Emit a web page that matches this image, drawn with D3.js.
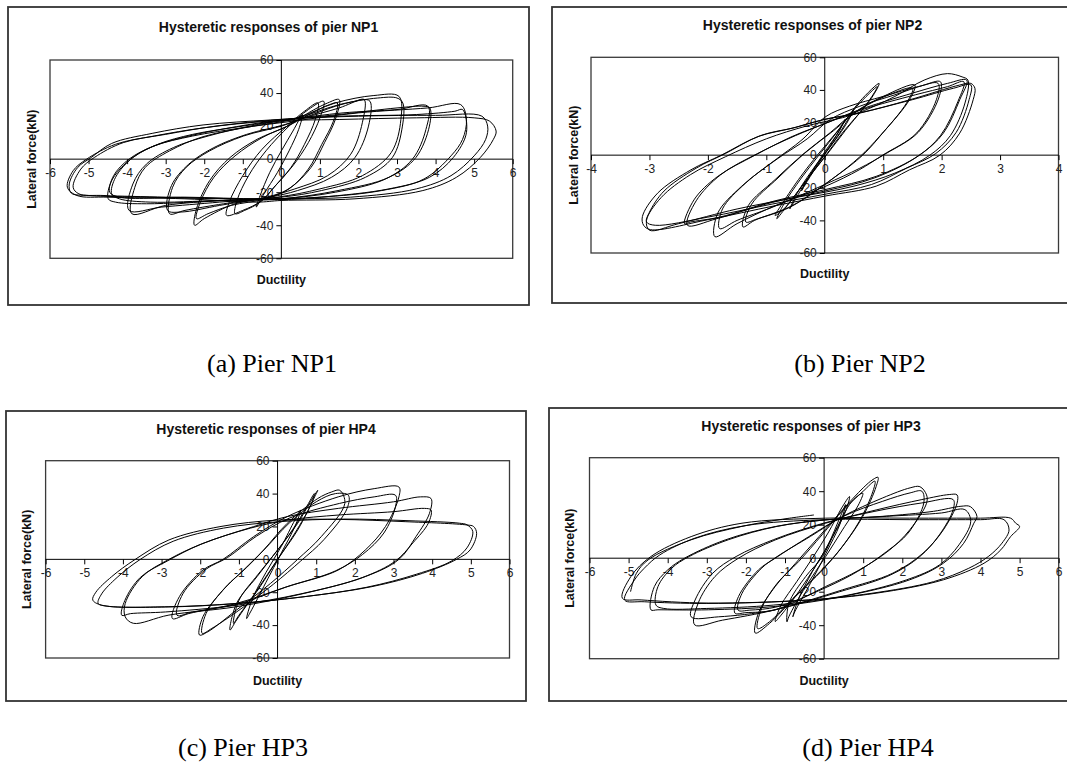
<!DOCTYPE html>
<html>
<head>
<meta charset="utf-8">
<script src="https://d3js.org/d3.v7.min.js"></script>
<style>
  body { margin: 0; background: #fff; }
  svg { display: block; }
  .tick-label { font-family: Arial, "Liberation Sans", sans-serif; font-size: 12px; fill: #222; }
  .title { font-family: Arial, "Liberation Sans", sans-serif; font-size: 14px; font-weight: bold; fill: #111; }
  .axis-title { font-family: Arial, "Liberation Sans", sans-serif; font-size: 12.5px; font-weight: bold; fill: #111; }
  .caption { font-family: "Times New Roman", "Liberation Serif", serif; font-size: 26px; fill: #000; }
</style>
</head>
<body>
<div id="chart"></div>
<script>
// texts
var titles = ["Hysteretic responses of pier NP1", "Hysteretic responses of pier NP2",
              "Hysteretic responses of pier HP4", "Hysteretic responses of pier HP3"];
var captions = ["(a) Pier NP1", "(b) Pier NP2", "(c) Pier HP3", "(d) Pier HP4"];
var xLabel = "Ductility";
var yLabel = "Lateral force(kN)";

// ticks
var xTicksWide = [-6, -5, -4, -3, -2, -1, 0, 1, 2, 3, 4, 5, 6];
var xTicksNarrow = [-4, -3, -2, -1, 0, 1, 2, 3, 4];
var yTicks = [-60, -40, -20, 0, 20, 40, 60];

// hysteresis cycles, [ductility, force]
var np1Loops = [
  [[0.55,27],[0.45,18],[0.2,5],[-0.1,-8],[-0.45,-21],[-0.65,-29],[-0.55,-22],[-0.3,-8],[0,5],[0.3,17]],
  [[0.95,34],[0.88,24],[0.6,9],[0.25,-5],[-0.19,-17],[-0.5,-25],[-1.0,-31],[-1.42,-34],[-1.35,-26],[-1.0,-10],[-0.5,6],[0.15,20],[0.6,29]],
  [[1.1,35],[1.0,25],[0.7,10],[0.3,-4],[-0.15,-16],[-0.55,-26],[-0.95,-31],[-1.2,-33],[-1.15,-25],[-0.85,-10],[-0.4,5],[0.2,20],[0.7,30]],
  [[1.5,36],[1.4,24],[1.12,10],[0.77,-5],[0.25,-17],[-0.3,-23],[-1.2,-27],[-2.0,-36],[-2.25,-40],[-2.2,-30],[-1.86,-13],[-1.33,1],[-0.63,12],[0.16,20],[0.7,28],[1.2,34]],
  [[1.45,34],[1.35,23],[1.05,9],[0.7,-6],[0.2,-18],[-0.4,-24],[-1.3,-28],[-1.9,-33],[-2.2,-36],[-2.1,-26],[-1.75,-11],[-1.2,2],[-0.5,13],[0.25,21],[0.8,28],[1.25,33]],
  [[2.3,35],[2.26,20],[1.91,1],[1.3,-11],[0.42,-19],[-0.3,-23],[-1.5,-27],[-2.5,-31],[-2.9,-33],[-2.82,-17],[-2.47,-5],[-1.86,5],[-0.98,14],[0,20],[0.6,25],[1.5,31],[2.1,36]],
  [[2.15,36],[2.1,22],[1.8,3],[1.2,-10],[0.35,-18],[-0.4,-23],[-1.6,-28],[-2.6,-32],[-2.95,-31],[-2.85,-16],[-2.4,-3],[-1.75,7],[-0.9,15],[0.1,21],[0.7,26],[1.4,32],[1.9,35]],
  [[3.15,34],[3.14,20],[2.88,1],[2.18,-11],[1.04,-19],[0,-23],[-1.5,-25],[-3.0,-28],[-3.88,-33],[-3.8,-17],[-3.53,-5],[-2.9,5],[-2.03,13.6],[-0.72,20],[0.3,24],[1.5,33],[2.5,37],[3.0,37]],
  [[3.05,38],[3.1,24],[2.85,4],[2.1,-10],[1.0,-18],[-0.1,-23],[-1.6,-26],[-3.1,-29],[-3.95,-31],[-3.85,-15],[-3.5,-3],[-2.8,7],[-1.9,14],[-0.6,21],[0.4,25],[1.4,34],[2.4,38.5]],
  [[3.85,31],[3.84,20],[3.49,1],[2.79,-11],[1.47,-19],[0,-24],[-1.5,-25],[-3.5,-27],[-4.3,-26],[-4.49,-24],[-4.4,-13],[-3.96,-1],[-3.35,7.5],[-2.47,13.6],[-1.16,19.7],[0,23.7],[1.5,27],[3.0,31],[3.7,32]],
  [[3.8,32],[3.75,18],[3.4,0],[2.7,-12],[1.4,-20],[0,-24],[-1.6,-25],[-3.4,-26],[-4.2,-24],[-4.4,-21],[-4.3,-11],[-3.85,1],[-3.2,9],[-2.3,15],[-1.0,20],[0.2,24],[1.6,28],[3.0,30]],
  [[4.7,30],[4.8,16],[4.46,1],[3.84,-11],[2.79,-18],[1.04,-23],[0,-24.5],[-1.5,-24],[-3.5,-23],[-5.0,-22],[-5.45,-20.5],[-5.5,-15],[-5.28,-5],[-4.93,1],[-4.4,9.5],[-3.35,15.6],[-2.03,20.7],[-0.28,23.7],[1.5,26],[3.5,27],[4.5,29]],
  [[4.65,33],[4.8,24],[4.7,12],[4.4,2],[3.7,-12],[2.6,-19],[1.0,-23],[-0.5,-24],[-2.5,-23],[-4.2,-23],[-4.45,-20],[-4.35,-10],[-3.95,0],[-3.3,8],[-2.3,14],[-1.0,19],[0.3,23],[2.0,28],[3.8,31]],
  [[5.4,23],[5.57,17],[5.5,12],[5.16,1],[4.54,-11],[3.67,-19],[1.91,-24],[0,-25],[-0.63,-26],[-2.5,-24],[-4.5,-23],[-5.3,-22],[-5.55,-17],[-5.4,-7],[-5.05,0],[-4.3,9],[-3.3,14],[-2.0,19],[-0.3,23],[1.5,24],[3.5,25],[5.0,25]],
  [[5.2,26],[5.35,20],[5.3,12],[5.0,2],[4.4,-10],[3.5,-18],[1.8,-23],[0,-24],[-1.0,-24],[-3.0,-23],[-4.6,-22],[-5.25,-21],[-5.4,-17],[-5.2,-6],[-4.85,1],[-4.1,10],[-3.0,15],[-1.7,20],[0,24],[2.0,26],[4.0,26.5]]
];

var np2Loops = [
  [[0.35,22],[0.2,12],[-0.05,-2],[-0.3,-16],[-0.4,-22],[-0.25,-12],[0,2],[0.25,15]],
  [[0.5,28],[0.35,18],[0.05,3],[-0.25,-12],[-0.55,-30],[-0.6,-33],[-0.45,-22],[-0.15,-6],[0.15,8],[0.4,22]],
  [[0.93,44],[0.8,35],[0.3,13.5],[0.02,0],[-0.39,-19],[-0.75,-36],[-0.82,-39],[-0.7,-30],[-0.4,-14],[-0.1,0],[0.25,16],[0.6,33]],
  [[0.9,42],[0.75,33],[0.35,15],[0.05,1],[-0.35,-17],[-0.7,-33],[-0.85,-37],[-0.75,-31],[-0.45,-15],[-0.15,-1],[0.2,14],[0.55,30]],
  [[1.54,43],[1.45,34],[0.99,13.5],[0.65,0],[0.19,-13],[-0.56,-31],[-1.2,-40],[-1.4,-44],[-1.31,-31],[-0.85,-15],[-0.39,0],[0.1,14],[0.5,26],[1.0,36]],
  [[1.5,41],[1.4,32],[0.95,12],[0.6,-1],[0.15,-14],[-0.6,-32],[-1.15,-39],[-1.35,-41],[-1.25,-30],[-0.8,-14],[-0.35,1],[0.15,15],[0.6,28],[1.1,37]],
  [[1.94,44],[1.91,34],[1.57,13.5],[0.99,0],[0.59,-9],[0.02,-19],[-0.85,-31],[-1.5,-42],[-1.88,-50],[-1.83,-35.5],[-1.42,-19],[-0.85,-3],[-0.39,9.4],[0.02,23.7],[0.42,30],[1.0,36],[1.6,42]],
  [[1.98,45],[1.95,35],[1.6,14],[1.05,1],[0.6,-8],[0,-18],[-0.9,-32],[-1.5,-40],[-1.8,-45],[-1.75,-33],[-1.35,-17],[-0.8,-2],[-0.3,10],[0.1,22],[0.6,30],[1.2,37],[1.7,43]],
  [[2.43,46],[2.31,34],[2.03,13.5],[1.62,0],[0.88,-13],[0.02,-21],[-0.85,-28],[-1.8,-38],[-2.3,-41],[-2.4,-42],[-2.23,-27],[-1.83,-13],[-1.19,0],[-0.56,11.4],[0.02,19.6],[0.59,27.8],[1.5,38],[2.1,44]],
  [[2.38,45],[2.28,33],[1.98,12],[1.58,-1],[0.85,-14],[0,-22],[-0.9,-29],[-1.85,-39],[-2.35,-43],[-2.2,-28],[-1.78,-12],[-1.15,1],[-0.5,12],[0.05,20],[0.65,28],[1.55,37],[2.1,42]],
  [[2.57,41],[2.54,34],[2.31,13.5],[1.97,0],[1.45,-9],[0.88,-19],[0.02,-25],[-0.85,-31],[-2.0,-39.6],[-2.98,-45.7],[-3.1,-43],[-3.12,-37.6],[-2.86,-23.3],[-2.29,-9],[-1.77,0],[-1.14,11.4],[-0.56,16.5],[-0.04,21.6],[0.59,25.7],[1.45,33.9],[2.31,43],[2.5,44]],
  [[2.5,43],[2.47,34],[2.25,14],[1.9,1],[1.4,-8],[0.8,-18],[0,-24],[-0.9,-30],[-2.0,-38],[-2.9,-43],[-3.05,-41],[-3.0,-35],[-2.75,-22],[-2.2,-8],[-1.7,1],[-1.1,12],[-0.5,17],[0,22],[0.6,26],[1.5,34],[2.2,41]],
  [[2.45,46],[2.4,32],[2.15,12],[1.8,0],[1.2,-11],[0.5,-19],[-0.5,-26],[-1.5,-33],[-2.5,-42],[-3.0,-46],[-3.05,-40],[-2.8,-26],[-2.3,-12],[-1.7,-1],[-1.0,10],[-0.3,18],[0.5,25],[1.2,36],[1.7,46],[2.1,50],[2.35,48]]
];

var hp4Loops = [
  [[0.6,30],[0.45,20],[0.1,4],[-0.3,-14],[-0.7,-32],[-0.8,-36],[-0.65,-24],[-0.3,-8],[0.1,8],[0.45,24]],
  [[1.04,42],[0.96,38],[0.52,17.8],[0,0],[-0.53,-18.7],[-1.06,-36.9],[-1.23,-43],[-1.06,-26.8],[-0.53,-10.5],[0,5.7],[0.52,21.9],[0.85,35]],
  [[0.95,40],[0.88,34],[0.45,16],[-0.05,-2],[-0.55,-20],[-1.0,-34],[-1.14,-39],[-1.0,-25],[-0.5,-9],[0.05,7],[0.5,22],[0.8,34]],
  [[1.61,42],[1.74,34],[1.13,13.8],[0.52,0],[-0.18,-14.6],[-1.06,-30.8],[-1.8,-44],[-2.02,-46],[-1.93,-34.9],[-1.41,-18.7],[-0.88,-6.5],[-0.36,5.7],[0.25,21.9],[1.04,37],[1.4,41]],
  [[1.83,39],[1.8,31],[1.2,12],[0.6,-1],[-0.1,-15],[-1.0,-31],[-1.7,-42],[-1.95,-45],[-1.85,-33],[-1.35,-17],[-0.8,-5],[-0.3,7],[0.3,22],[1.0,35],[1.5,40]],
  [[3.14,44],[3.14,38],[2.79,19.9],[2.27,5.7],[1.57,-6.5],[0.25,-16.6],[-1.06,-26.8],[-2.3,-33],[-2.72,-36],[-2.54,-22.7],[-1.93,-6.5],[-1.41,0],[-0.62,13.8],[0.25,26],[1.57,38],[2.5,43]],
  [[3.05,39],[3.05,32],[2.75,16],[2.2,3],[1.5,-7],[0.2,-17],[-1.0,-27],[-2.2,-32],[-2.6,-34],[-2.45,-21],[-1.85,-6],[-1.3,1],[-0.55,14],[0.3,25],[1.6,34],[2.5,38]],
  [[3.97,37],[3.93,28],[3.58,13.8],[3.14,0],[2.27,-10.5],[0.69,-20.7],[-1.06,-28.8],[-2.81,-33.9],[-3.73,-38.9],[-3.94,-35],[-3.94,-26.8],[-3.5,-10.5],[-2.81,0],[-1.93,9.7],[-0.62,19.9],[0.25,26],[1.57,31],[3.0,35],[3.7,38]],
  [[3.97,30],[3.9,22],[3.5,10],[3.05,-1],[2.2,-11],[0.6,-21],[-1.1,-28],[-2.9,-32],[-3.8,-33],[-4.03,-34],[-3.95,-25],[-3.55,-11],[-2.85,-1],[-2.0,9],[-0.7,19],[0.3,24],[1.6,27],[3.0,29],[3.8,31]],
  [[5.07,20],[5.15,15.8],[4.98,5.7],[4.63,0],[3.75,-8.5],[2.44,-16.6],[0.69,-22.7],[-1.06,-26.8],[-2.81,-28.8],[-4.56,-27.8],[-4.78,-24.7],[-4.7,-20],[-4.29,-10.5],[-3.68,0],[-2.81,11.8],[-1.49,19.9],[0,23.9],[1.57,24.3],[3.32,22.9],[4.9,20.9]],
  [[4.9,21],[5.05,17],[4.9,7],[4.5,-1],[3.6,-9],[2.3,-17],[0.6,-23],[-1.1,-27],[-2.9,-29],[-4.4,-28.5],[-4.64,-26.8],[-4.55,-21],[-4.15,-11],[-3.55,0],[-2.7,11],[-1.4,19],[0.1,23],[1.7,24.5],[3.4,23.5],[4.7,22]]
];

var hp3Loops = [
  [[0.55,32],[0.4,20],[0.05,3],[-0.35,-15],[-0.75,-32],[-0.8,-35],[-0.65,-24],[-0.3,-8],[0.1,8],[0.4,24]],
  [[0.99,38.8],[0.9,32.8],[0.47,16.9],[0.04,1],[-0.47,-16.9],[-0.9,-34.8],[-0.95,-38],[-0.9,-26.8],[-0.47,-10.9],[-0.04,1],[0.3,16.9],[0.65,32],[0.85,37]],
  [[0.65,36.8],[0.55,28],[0.2,12],[-0.2,-4],[-0.65,-20],[-1.1,-34],[-1.25,-37.8],[-1.1,-28],[-0.7,-14],[-0.3,0],[0.1,15],[0.45,30]],
  [[1.38,48.3],[1.33,42.7],[0.99,24.9],[0.47,7],[-0.04,-7],[-0.73,-22.9],[-1.4,-39],[-1.76,-44.7],[-1.68,-32.8],[-1.25,-16.9],[-0.73,-3],[-0.13,12.9],[0.47,28.8],[1.0,42],[1.25,47]],
  [[1.3,46],[1.25,40],[0.9,22],[0.4,5],[-0.1,-8],[-0.8,-24],[-1.4,-38],[-1.7,-42],[-1.6,-30],[-1.2,-15],[-0.65,-2],[-0.05,14],[0.5,29],[1.0,40]],
  [[2.45,42.7],[2.62,37.8],[2.62,32.8],[2.19,16.9],[1.68,5],[0.9,-7],[0.04,-16.9],[-1.25,-30.8],[-2.0,-32.5],[-2.28,-32.8],[-2.19,-22.9],[-1.68,-7],[-1.25,0],[-0.39,12.9],[0.47,24.9],[1.5,36],[2.2,42]],
  [[2.5,40],[2.55,33],[2.15,15],[1.6,4],[0.85,-8],[0,-18],[-1.2,-29],[-1.9,-31],[-2.2,-31],[-2.1,-21],[-1.6,-6],[-1.2,1],[-0.35,13],[0.5,25],[1.5,34],[2.2,39]],
  [[3.4,37.8],[3.4,32.8],[3.05,16.9],[2.53,3],[1.76,-8.9],[0.47,-18.9],[-1.25,-30.8],[-2.6,-37],[-3.31,-39.8],[-3.22,-26.8],[-2.79,-10.9],[-2.19,0],[-1.25,10.9],[0.04,20.9],[1.33,28.8],[2.5,35],[3.2,38]],
  [[3.3,35],[3.3,29],[2.95,14],[2.45,1],[1.7,-10],[0.4,-20],[-1.3,-31],[-2.7,-35],[-3.4,-35],[-3.3,-25],[-2.85,-9],[-2.25,1],[-1.3,11],[0,21],[1.3,28],[2.5,33]],
  [[3.74,30.8],[3.91,24.9],[3.83,20.9],[3.57,8.9],[3.05,-3],[2.19,-12.9],[0.47,-22.9],[-1.25,-28.8],[-2.96,-30.8],[-4.25,-30.8],[-4.43,-30.8],[-4.34,-16.9],[-4.0,-7],[-3.57,0],[-2.53,10.9],[-1.25,18.9],[0.04,22.9],[1.5,25],[2.8,28],[3.5,31]],
  [[3.6,29],[3.75,22],[3.45,8],[2.95,-4],[2.1,-13],[0.4,-23],[-1.3,-28],[-3.0,-30],[-4.1,-30],[-4.3,-28],[-4.25,-17],[-3.9,-6],[-3.45,1],[-2.45,11],[-1.2,19],[0.1,23],[1.6,25],[3.0,27]],
  [[4.77,23.9],[4.9,20.9],[5.0,18.9],[4.77,12.9],[4.52,5],[4.09,-3],[3.05,-12.9],[1.33,-20.9],[-0.39,-24.9],[-2.96,-26.8],[-4.68,-24.9],[-5.16,-23.9],[-4.94,-10.9],[-4.43,1],[-3.4,12.9],[-2.1,20.9],[0.04,23.9],[2.19,23.9],[4.0,23.9]],
  [[4.6,23],[4.73,16.9],[4.55,9],[4.2,1],[3.7,-6],[2.8,-14],[1.2,-21],[-0.4,-25],[-3.0,-27],[-4.6,-26],[-5.1,-25],[-4.85,-13],[-4.6,-6],[-4.2,2],[-3.3,12],[-2.0,19.5],[0,23],[2.2,23],[4.0,23]]
];
// last, unfinished cycle of HP3
var hp3Tail = [[-4.95,-20],[-4.8,-9],[-4.5,-1],[-3.4,11],[-2.1,19],[-1.0,23.5],[-0.26,25.8]];

var svg = d3.select("#chart").append("svg")
    .attr("width", 1067)
    .attr("height", 769);

svg.append("rect").attr("width", 1067).attr("height", 769).attr("fill", "#fff");

// panel placement
var panels = [
  { title: titles[0], caption: captions[0], loops: np1Loops, tail: null, xTicks: xTicksWide,
    frame: [8, 7, 529, 305], plot: [50, 60, 512.7, 258.3], titleY: 27, yLabelX: 32, xLabelY: 280, cap: [272, 372] },
  { title: titles[1], caption: captions[1], loops: np2Loops, tail: null, xTicks: xTicksNarrow,
    frame: [552, 7, 1073, 303], plot: [591, 57.3, 1058.5, 253], titleY: 25, yLabelX: 574, xLabelY: 274, cap: [860, 372] },
  { title: titles[2], caption: captions[2], loops: hp4Loops, tail: null, xTicks: xTicksWide,
    frame: [6, 411, 526, 701], plot: [45.6, 460.7, 509.5, 658], titleY: 429, yLabelX: 27, xLabelY: 681, cap: [243, 756] },
  { title: titles[3], caption: captions[3], loops: hp3Loops, tail: hp3Tail, xTicks: xTicksWide,
    frame: [549, 408, 1073, 701], plot: [589.5, 457.7, 1058.7, 658.7], titleY: 426, yLabelX: 570, xLabelY: 681, cap: [868, 756] }
];

panels.forEach(function (p) {
  var g = svg.append("g");
  var f = p.frame, b = p.plot;

  g.append("rect")
    .attr("x", f[0]).attr("y", f[1])
    .attr("width", f[2] - f[0]).attr("height", f[3] - f[1])
    .attr("fill", "#fff").attr("stroke", "#333").attr("stroke-width", 1.8);

  var xMax = d3.max(p.xTicks);
  var x = d3.scaleLinear().domain([-xMax, xMax]).range([b[0], b[2]]);
  var y = d3.scaleLinear().domain([-60, 60]).range([b[3], b[1]]);

  g.append("rect")
    .attr("x", b[0]).attr("y", b[1])
    .attr("width", b[2] - b[0]).attr("height", b[3] - b[1])
    .attr("fill", "#fff").attr("stroke", "#3a3a3a").attr("stroke-width", 1.3);

  // axes through the origin, plain hyphen minus like the original
  var plain = function (d) { return String(d); };
  var yAxis = d3.axisLeft(y).tickValues(yTicks).tickFormat(plain).tickSize(5).tickPadding(3);
  var xAxis = d3.axisBottom(x).tickValues(p.xTicks).tickFormat(plain).tickSize(5).tickPadding(4);

  var ya = g.append("g").attr("transform", "translate(" + x(0) + ",0)").call(yAxis);
  var xa = g.append("g").attr("transform", "translate(0," + y(0) + ")").call(xAxis);
  [ya, xa].forEach(function (a) {
    a.select(".domain").remove();
    a.selectAll("line").attr("stroke", "#000");
    a.selectAll("text").attr("class", "tick-label").attr("font-size", null).attr("font-family", null).attr("fill", null);
  });

  g.append("line").attr("x1", x(0)).attr("x2", x(0)).attr("y1", b[1]).attr("y2", b[3])
    .attr("stroke", "#000").attr("stroke-width", 1);
  g.append("line").attr("x1", b[0]).attr("x2", b[2]).attr("y1", y(0)).attr("y2", y(0))
    .attr("stroke", "#000").attr("stroke-width", 1);

  // curves
  var loopLine = d3.line()
    .x(function (d) { return x(d[0]); })
    .y(function (d) { return y(d[1]); })
    .curve(d3.curveCatmullRomClosed.alpha(0.5));

  g.append("g").selectAll("path")
    .data(p.loops)
    .enter().append("path")
    .attr("d", loopLine)
    .attr("fill", "none")
    .attr("stroke", "#000")
    .attr("stroke-width", 1);

  if (p.tail) {
    g.append("path")
      .datum(p.tail)
      .attr("d", loopLine.curve(d3.curveCatmullRom.alpha(0.5)))
      .attr("fill", "none").attr("stroke", "#000").attr("stroke-width", 1);
  }

  g.append("text").attr("class", "title")
    .attr("x", (f[0] + f[2]) / 2).attr("y", p.titleY).attr("dy", "0.35em")
    .attr("text-anchor", "middle").text(p.title);

  g.append("text").attr("class", "axis-title")
    .attr("x", (b[0] + b[2]) / 2).attr("y", p.xLabelY).attr("dy", "0.35em")
    .attr("text-anchor", "middle").text(xLabel);

  g.append("text").attr("class", "axis-title")
    .attr("transform", "translate(" + p.yLabelX + "," + (b[1] + b[3]) / 2 + ") rotate(-90)")
    .attr("dy", "0.35em").attr("text-anchor", "middle").text(yLabel);

  svg.append("text").attr("class", "caption")
    .attr("x", p.cap[0]).attr("y", p.cap[1])
    .attr("text-anchor", "middle").text(p.caption);
});
</script>
</body>
</html>
